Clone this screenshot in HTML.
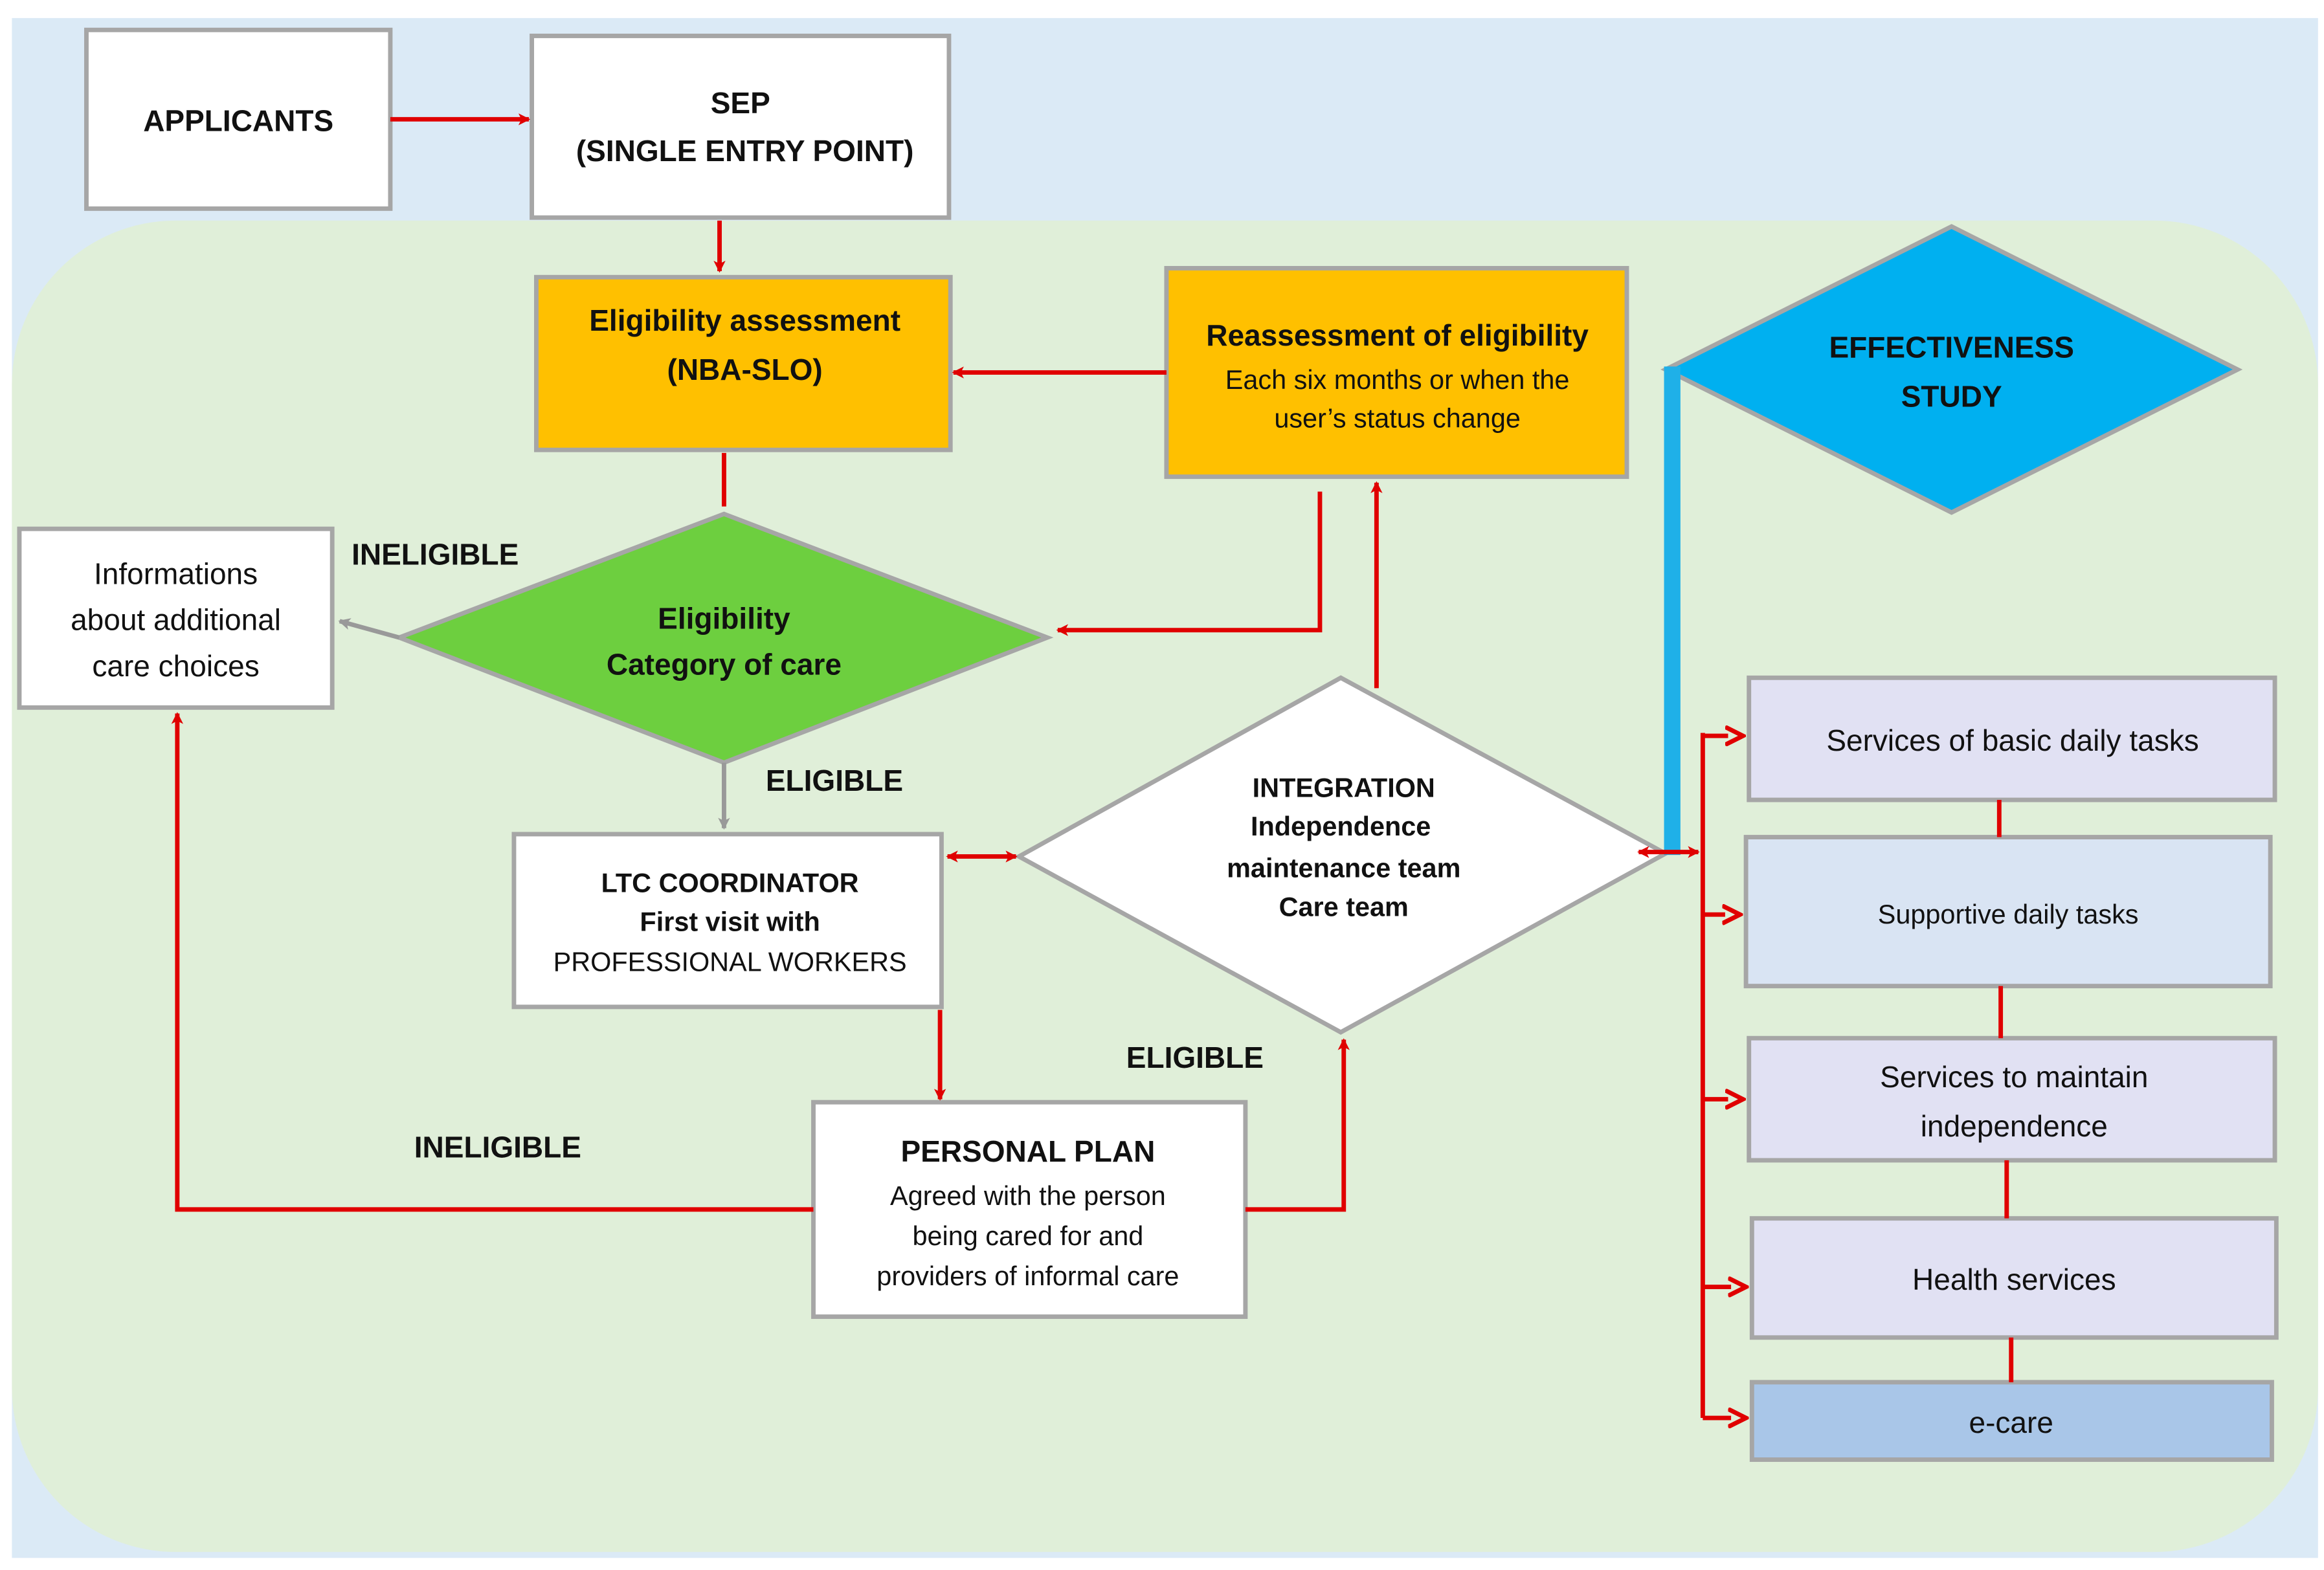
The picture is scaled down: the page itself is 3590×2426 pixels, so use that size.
<!DOCTYPE html>
<html><head><meta charset="utf-8"><style>
html,body{margin:0;padding:0;background:#fff}
svg{display:block}
text{font-family:"Liberation Sans",sans-serif;fill:#111}
.b{font-weight:bold}
</style></head><body>
<svg width="3590" height="2426" viewBox="0 0 1560 1054" xmlns="http://www.w3.org/2000/svg">
<defs>
<marker id="ar" markerWidth="8" markerHeight="8" refX="7" refY="4" orient="auto" markerUnits="userSpaceOnUse"><path d="M0,0 L8,4 L0,8 L2,4 z" fill="#e00000"/></marker>
<marker id="arb" markerWidth="8" markerHeight="8" refX="1" refY="4" orient="auto" markerUnits="userSpaceOnUse"><path d="M8,0 L0,4 L8,8 L6,4 z" fill="#e00000"/></marker>
<marker id="ag" markerWidth="8" markerHeight="8" refX="7" refY="4" orient="auto" markerUnits="userSpaceOnUse"><path d="M0,0 L8,4 L0,8 L2,4 z" fill="#999"/></marker>
<marker id="ah" markerWidth="14" markerHeight="14" refX="2" refY="7" orient="auto" markerUnits="userSpaceOnUse"><path d="M0,1 L12,7 L0,13" fill="none" stroke="#e00000" stroke-width="3"/></marker>
</defs>
<rect x="8" y="12" width="1548" height="1034" fill="#dbeaf6"/>
<rect x="8" y="148" width="1548" height="894" rx="110" fill="#e0efd9"/>
<g stroke="#a6a6a6" stroke-width="3">
<rect x="58" y="20" width="204" height="120" fill="#fff"/>
<rect x="357" y="24" width="280" height="122" fill="#fff"/>
<rect x="360" y="186" width="278" height="116" fill="#ffc000"/>
<rect x="783" y="180" width="309" height="140" fill="#ffc000"/>
<rect x="13" y="355" width="210" height="120" fill="#fff"/>
<polygon points="486,345 703,428 486,512 268,428" fill="#6dcf3f"/>
<rect x="345" y="560" width="287" height="116" fill="#fff"/>
<polygon points="900,455 1118,573 900,693 684,575" fill="#fff"/>
<polygon points="1310,152 1502,248 1310,344 1118,248" fill="#00b0f0"/>
<rect x="546" y="740" width="290" height="144" fill="#fff"/>
<rect x="1174" y="455" width="353" height="82" fill="#e1e1f3"/>
<rect x="1172" y="562" width="352" height="100" fill="#d9e4f3"/>
<rect x="1174" y="697" width="353" height="82" fill="#e1e1f3"/>
<rect x="1176" y="818" width="352" height="80" fill="#e1e1f3"/>
<rect x="1176" y="928" width="349" height="52" fill="#a9c6e8"/>
</g>
<rect x="1117" y="246" width="11" height="328" fill="#1fb0e8"/>
<g stroke="#e00000" stroke-width="3" fill="none">
<line x1="262" y1="80" x2="355" y2="80" marker-end="url(#ar)"/>
<line x1="483" y1="148" x2="483" y2="182" marker-end="url(#ar)"/>
<line x1="783" y1="250" x2="640" y2="250" marker-end="url(#ar)"/>
<line x1="486" y1="304" x2="486" y2="340"/>
<polyline points="886,330 886,423 710,423" marker-end="url(#ar)"/>
<line x1="924" y1="462" x2="924" y2="324" marker-end="url(#ar)"/>
<line x1="636" y1="575" x2="682" y2="575" marker-start="url(#arb)" marker-end="url(#ar)"/>
<line x1="631" y1="678" x2="631" y2="738" marker-end="url(#ar)"/>
<polyline points="836,812 902,812 902,698" marker-end="url(#ar)"/>
<polyline points="546,812 119,812 119,479" marker-end="url(#ar)"/>
<line x1="1100" y1="572" x2="1140" y2="572" marker-start="url(#arb)" marker-end="url(#ar)"/>
<line x1="1143" y1="492" x2="1143" y2="952"/>
<line x1="1143" y1="494" x2="1160" y2="494" marker-end="url(#ah)"/>
<line x1="1143" y1="614" x2="1158" y2="614" marker-end="url(#ah)"/>
<line x1="1143" y1="738" x2="1160" y2="738" marker-end="url(#ah)"/>
<line x1="1143" y1="864" x2="1162" y2="864" marker-end="url(#ah)"/>
<line x1="1143" y1="952" x2="1162" y2="952" marker-end="url(#ah)"/>
<line x1="1342" y1="537" x2="1342" y2="562"/>
<line x1="1343" y1="662" x2="1343" y2="697"/>
<line x1="1347" y1="779" x2="1347" y2="818"/>
<line x1="1350" y1="898" x2="1350" y2="928"/>
</g>
<g stroke="#999" stroke-width="3" fill="none">
<line x1="268" y1="428" x2="228" y2="417" marker-end="url(#ag)"/>
<line x1="486" y1="512" x2="486" y2="556" marker-end="url(#ag)"/>
</g>
<g text-anchor="middle" font-size="20">
<text x="160" y="88" class="b">APPLICANTS</text>
<text x="497" y="76" class="b">SEP</text>
<text x="500" y="108" class="b">(SINGLE ENTRY POINT)</text>
<text x="500" y="222" class="b">Eligibility assessment</text>
<text x="500" y="255" class="b">(NBA-SLO)</text>
<text x="938" y="232" class="b">Reassessment of eligibility</text>
<text x="938" y="261" font-size="18">Each six months or when the</text>
<text x="938" y="287" font-size="18">user’s status change</text>
<text x="118" y="392">Informations</text>
<text x="118" y="423">about additional</text>
<text x="118" y="454">care choices</text>
<text x="486" y="422" class="b">Eligibility</text>
<text x="486" y="453" class="b">Category of care</text>
<text x="1310" y="240" class="b">EFFECTIVENESS</text>
<text x="1310" y="273" class="b">STUDY</text>
<text x="490" y="599" font-size="18" class="b">LTC COORDINATOR</text>
<text x="490" y="625" font-size="18" class="b">First visit with</text>
<text x="490" y="652" font-size="18">PROFESSIONAL WORKERS</text>
<text x="902" y="535" font-size="18" class="b">INTEGRATION</text>
<text x="900" y="561" font-size="18" class="b">Independence</text>
<text x="902" y="589" font-size="18" class="b">maintenance team</text>
<text x="902" y="615" font-size="18" class="b">Care team</text>
<text x="690" y="780" class="b">PERSONAL PLAN</text>
<text x="690" y="809" font-size="18">Agreed with the person</text>
<text x="690" y="836" font-size="18">being cared for and</text>
<text x="690" y="863" font-size="18">providers of informal care</text>
<text x="1351" y="504">Services of basic daily tasks</text>
<text x="1348" y="620" font-size="18">Supportive daily tasks</text>
<text x="1352" y="730">Services to maintain</text>
<text x="1352" y="763">independence</text>
<text x="1352" y="866">Health services</text>
<text x="1350" y="962">e-care</text>
</g>
<g font-size="20" class="b">
<text x="236" y="379" class="b">INELIGIBLE</text>
<text x="514" y="531" class="b">ELIGIBLE</text>
<text x="756" y="717" class="b">ELIGIBLE</text>
<text x="278" y="777" class="b">INELIGIBLE</text>
</g>
</svg>
</body></html>
